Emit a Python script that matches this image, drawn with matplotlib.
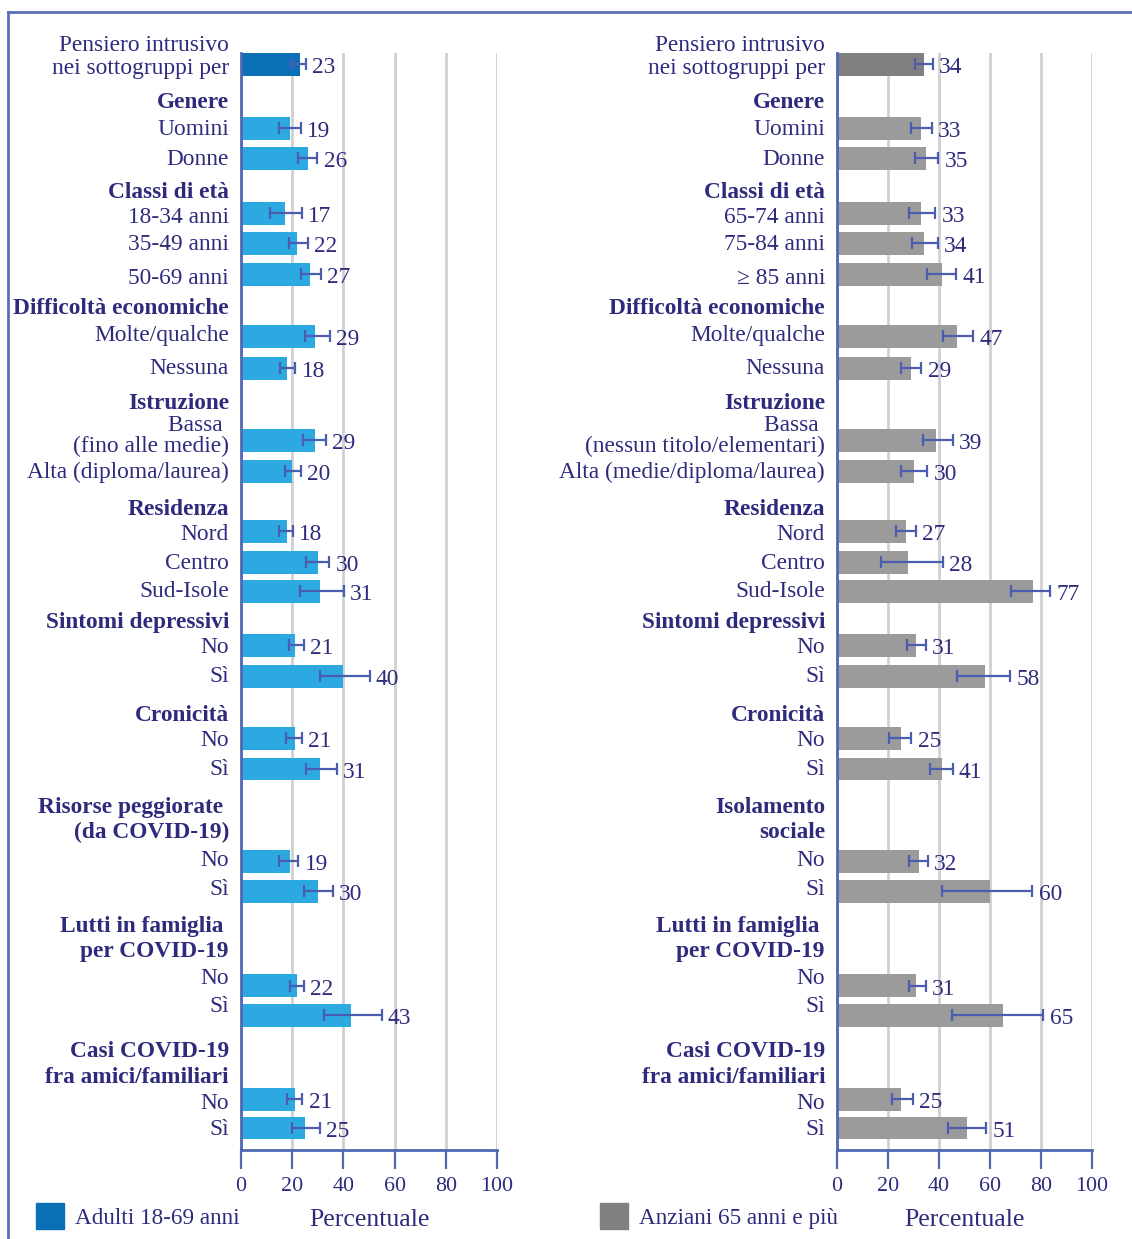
import numpy as np
import matplotlib
matplotlib.use("Agg")
import matplotlib.pyplot as plt
from matplotlib.patches import Rectangle
from matplotlib.lines import Line2D

plt.rcParams['font.family'] = ['Liberation Serif', 'DejaVu Serif']

# testi delle righe (sinistra = adulti, destra = anziani)
left_labels = ["Pensiero intrusivo", "nei sottogruppi per", "Genere", "Uomini", "Donne",
               "Classi di età", "18-34 anni", "35-49 anni", "50-69 anni",
               "Difficoltà economiche", "Molte/qualche", "Nessuna",
               "Istruzione", "Bassa ", "(fino alle medie)", "Alta (diploma/laurea)",
               "Residenza", "Nord", "Centro", "Sud-Isole",
               "Sintomi depressivi", "No", "Sì", "Cronicità", "No", "Sì",
               "Risorse peggiorate ", "(da COVID-19)", "No", "Sì",
               "Lutti in famiglia ", "per COVID-19", "No", "Sì",
               "Casi COVID-19", "fra amici/familiari", "No", "Sì"]
right_labels = ["Pensiero intrusivo", "nei sottogruppi per", "Genere", "Uomini", "Donne",
                "Classi di età", "65-74 anni", "75-84 anni", "≥ 85 anni",
                "Difficoltà economiche", "Molte/qualche", "Nessuna",
                "Istruzione", "Bassa ", "(nessun titolo/elementari)", "Alta (medie/diploma/laurea)",
                "Residenza", "Nord", "Centro", "Sud-Isole",
                "Sintomi depressivi", "No", "Sì", "Cronicità", "No", "Sì",
                "Isolamento", "sociale", "No", "Sì",
                "Lutti in famiglia ", "per COVID-19", "No", "Sì",
                "Casi COVID-19", "fra amici/familiari", "No", "Sì"]
bold_rows = [2, 5, 9, 12, 16, 20, 23, 26, 27, 30, 31, 34, 35]

# valori (%) e intervalli di confidenza
adulti = [23, 19, 26, 17, 22, 27, 29, 18, 29, 20, 18, 30, 31, 21, 40, 21, 31, 19, 30, 22, 43, 21, 25]
adulti_lo = [20.0, 14.7, 22.4, 11.3, 18.6, 23.4, 24.9, 15.3, 24.3, 17.1, 14.9, 25.2, 23.2,
             18.6, 30.8, 17.7, 25.5, 14.9, 24.8, 19.0, 32.3, 18.0, 19.9]
adulti_hi = [25.3, 23.3, 29.8, 23.8, 26.0, 31.3, 34.8, 21.2, 33.3, 23.5, 20.3, 34.5, 40.1,
             24.5, 50.2, 23.9, 37.5, 22.4, 35.9, 24.6, 54.9, 24.0, 30.8]

anziani = [34, 33, 35, 33, 34, 41, 47, 29, 39, 30, 27, 28, 77, 31, 58, 25, 41, 32, 60, 31, 65, 25, 51]
anziani_lo = [30.7, 29.0, 30.6, 28.1, 29.4, 35.3, 41.5, 25.0, 33.7, 25.0, 23.2, 17.4, 68.3,
              27.3, 47.2, 20.5, 36.3, 28.3, 41.2, 28.4, 45.1, 21.5, 43.5]
anziani_hi = [37.6, 37.2, 39.8, 38.5, 39.5, 46.7, 53.3, 33.1, 45.3, 35.4, 30.8, 41.6, 83.7,
              34.9, 67.9, 29.2, 45.3, 35.6, 76.6, 34.9, 80.9, 29.8, 58.4]

xticks = [0, 20, 40, 60, 80, 100]

# layout verticale (in pixel della figura)
W, H = 1132, 1239
label_y = [42.7, 65.7, 100, 126.7, 157.3, 190.5, 215, 242.5, 276.3, 306, 333.3, 366,
           400.7, 423.3, 444.3, 470, 507.2, 531.8, 561.4, 588.8, 620, 645.4, 673.8,
           713.2, 738.2, 766.7, 805, 830.3, 858.3, 887.3, 924.2, 949.5, 976.4, 1004.2,
           1048.8, 1075, 1101.2, 1127]
bar_y = [64.3, 128.3, 158.3, 213.3, 243.3, 274.3, 336.3, 368.3, 440.3, 471.3, 531.3,
         562.3, 591.3, 645.3, 676.3, 738.3, 769, 861.3, 891.3, 985.7, 1015.3, 1099.3, 1128]
y_top, y_bot = 52.7, 1149.5

navy = '#2e2b7d'
blue = '#5068b4'
errc = '#4a5db0'

fig = plt.figure(figsize=(W / 100, H / 100), dpi=100)

def panel(x0, x1, labels, vals, lo, hi, c_first, c_bar, legend_x, legend_txt):
    ax = fig.add_axes([x0 / W, 1 - y_bot / H, (x1 - x0) / W, (y_bot - y_top) / H])
    ax.set_xlim(0, 100)
    ax.set_ylim(y_bot, y_top)
    vals = np.array(vals, dtype=float)
    lo = np.array(lo)
    hi = np.array(hi)
    colors = [c_first] + [c_bar] * (len(vals) - 1)
    ax.barh(bar_y, vals, height=22.7, color=colors, zorder=2)
    ax.errorbar(vals, bar_y, xerr=[vals - lo, hi - vals], fmt='none', ecolor=errc,
                elinewidth=1.6, capsize=4.3, capthick=1.6, zorder=3)
    for v, h, y in zip(vals, hi, bar_y):
        ax.annotate("%d" % v, xy=(h, y + 1), xytext=(4.5, 0), textcoords='offset points',
                    ha='left', va='center_baseline', fontsize=16.8, color=navy)
    tr = ax.get_yaxis_transform()
    for i, (t, y) in enumerate(zip(labels, label_y)):
        ax.text(-12 / (x1 - x0), y, t, transform=tr, ha='right', va='center_baseline',
                fontsize=16.8, color=navy,
                fontweight='bold' if i in bold_rows else 'normal', clip_on=False)
    ax.set_xticks(xticks)
    ax.set_yticks([])
    ax.xaxis.grid(True, color='#d0d0d0', lw=2)
    ax.set_axisbelow(True)
    for s in ['top', 'right']:
        ax.spines[s].set_visible(False)
    for s in ['left', 'bottom']:
        ax.spines[s].set_color(blue)
        ax.spines[s].set_linewidth(2)
    ax.tick_params(axis='x', direction='out', length=14, width=1.6, color=blue,
                   labelsize=15.8, labelcolor=navy, pad=5.5)
    fig.text((x0 + x1) / 2 / W, 1 - 1217 / H, "Percentuale", ha='center',
             va='center_baseline', fontsize=18.5, color=navy)
    fig.patches.append(Rectangle((legend_x / W, 1 - 1229 / H), 28 / W, 26 / H,
                                 transform=fig.transFigure, color=c_first))
    fig.text((legend_x + 39) / W, 1 - 1216 / H, legend_txt, ha='left',
             va='center_baseline', fontsize=16.7, color=navy)
    return ax

panel(241, 497, left_labels, adulti, adulti_lo, adulti_hi, '#0a6fb5', '#2ca9e1',
      36, "Adulti 18-69 anni")
panel(837, 1092, right_labels, anziani, anziani_lo, anziani_hi, '#808080', '#9b9b9b',
      600, "Anziani 65 anni e più")

# cornice
fig.add_artist(Line2D([8 / W, 1], [1 - 12 / H, 1 - 12 / H], color='#5b6fb8', lw=2,
                      transform=fig.transFigure))
fig.add_artist(Line2D([8 / W, 8 / W], [0, 1 - 12 / H], color='#5b6fb8', lw=2,
                      transform=fig.transFigure))

fig.savefig("out.png", dpi=100)
